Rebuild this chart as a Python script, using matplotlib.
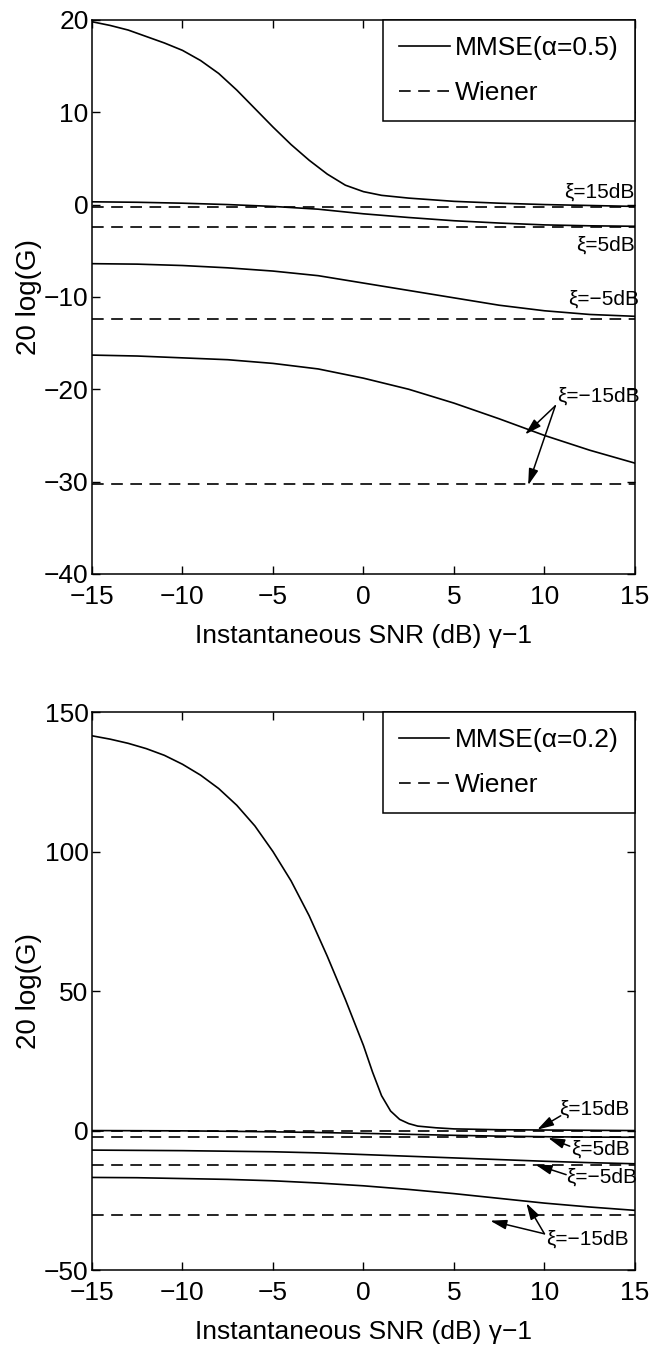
import matplotlib
matplotlib.use("Agg")
import matplotlib.pyplot as plt

plt.rcParams['font.family'] = ['Liberation Sans', 'DejaVu Sans']

# ---------------- data ----------------
snr = [-15, -12.5, -10, -7.5, -5, -2.5, 0, 2.5, 5, 7.5, 10, 12.5, 15]
x_ends = [-15, 15]

# alpha = 0.5 (top panel)
top_x15 = [-15, -14, -13, -12, -11, -10, -9, -8, -7, -6, -5, -4, -3, -2, -1, 0,
           1, 2.5, 5, 7.5, 10, 12.5, 15]
top_mmse15 = [19.8, 19.4, 18.9, 18.2, 17.5, 16.7, 15.6, 14.2, 12.4, 10.4, 8.4, 6.5, 4.8, 3.3, 2.1, 1.4,
              1.0, 0.7, 0.35, 0.15, 0.0, -0.1, -0.2]
top_mmse5 = [0.3, 0.25, 0.15, 0.0, -0.2, -0.5, -1.0, -1.4, -1.75, -2.0, -2.2, -2.3, -2.35]
top_mmse_m5 = [-6.4, -6.45, -6.6, -6.85, -7.2, -7.7, -8.5, -9.3, -10.1, -10.9, -11.5, -11.9, -12.1]
top_mmse_m15 = [-16.3, -16.4, -16.6, -16.8, -17.2, -17.8, -18.8, -20.0, -21.5, -23.2, -25.0, -26.6, -28.0]

# alpha = 0.2 (bottom panel)
bot_x15 = [-15, -14, -13, -12, -11, -10, -9, -8, -7, -6, -5, -4, -3, -2, -1, 0,
           0.5, 1, 1.5, 2, 2.5, 3, 4, 5, 7.5, 10, 12.5, 15]
bot_mmse15 = [141.5, 140.3, 138.8, 136.9, 134.5, 131.3, 127.4, 122.6, 116.6, 109.2, 100.0, 89.5, 77.0, 62.5, 47.0, 30.5,
              21.0, 12.5, 7.0, 4.0, 2.5, 1.6, 1.0, 0.6, 0.3, 0.2, 0.1, 0.0]
bot_mmse5 = [0.0, -0.05, -0.1, -0.25, -0.45, -0.7, -1.0, -1.35, -1.7, -2.0, -2.2, -2.35, -2.4]
bot_mmse_m5 = [-7.0, -7.1, -7.2, -7.4, -7.6, -8.0, -8.6, -9.2, -9.8, -10.4, -11.0, -11.5, -11.9]
bot_mmse_m15 = [-16.8, -16.9, -17.2, -17.5, -18.0, -18.8, -19.8, -21.1, -22.6, -24.3, -26.0, -27.4, -28.6]

# Wiener gains (constant) for xi = 15, 5, -5, -15 dB
wiener = [-0.27, -2.4, -12.4, -30.3]

top_yticks = [-40, -30, -20, -10, 0, 10, 20]
bot_yticks = [-50, 0, 50, 100, 150]
xticks = [-15, -10, -5, 0, 5, 10, 15]

# ---------------- figure ----------------
fig = plt.figure(figsize=(6.51, 13.53), dpi=100)
ax1 = fig.add_axes([0.1413, 0.5758, 0.834, 0.4095])
ax2 = fig.add_axes([0.1413, 0.0613, 0.834, 0.4124])

LW = 1.2
DASH = (0, (7, 4.5))
FS = 19
AFS = 15
arrow_kw = dict(arrowstyle='-|>,head_length=0.55,head_width=0.16', color='k',
                lw=1.1, mutation_scale=18, shrinkA=0, shrinkB=0)


def style(ax, yticks, ylim):
    ax.set_xlim(-15, 15)
    ax.set_ylim(*ylim)
    ax.set_xticks(xticks)
    ax.set_yticks(yticks)
    ax.tick_params(direction='in', top=True, right=True, length=6, width=1.0,
                   labelsize=FS)
    ax.tick_params(axis='x', pad=8)
    ax.tick_params(axis='y', pad=2.5)
    for s in ax.spines.values():
        s.set_linewidth(1.1)
    ax.set_xlabel('Instantaneous SNR (dB) γ−1', fontsize=FS, labelpad=11)
    ax.set_ylabel('20 log(G)', fontsize=FS + 1, labelpad=1.5)


def legend(ax, handles, labels):
    leg = ax.legend(handles, labels, loc='upper right',
                    bbox_to_anchor=(1.0, 1.0), borderaxespad=0.0, fontsize=FS,
                    fancybox=False, edgecolor='k', framealpha=1.0, handlelength=1.9,
                    handletextpad=0.2, borderpad=0.62, labelspacing=0.78)
    leg.get_frame().set_linewidth(1.1)
    return leg


# ---- top panel ----
l1, = ax1.plot(top_x15, top_mmse15, color='k', lw=LW)
ax1.plot(snr, top_mmse5, color='k', lw=LW)
ax1.plot(snr, top_mmse_m5, color='k', lw=LW)
ax1.plot(snr, top_mmse_m15, color='k', lw=LW)
d1 = None
for w in wiener:
    d, = ax1.plot(x_ends, [w, w], color='k', lw=LW, linestyle=DASH)
    d1 = d1 or d
style(ax1, top_yticks, (-40, 20))
legend(ax1, [l1, d1], ['MMSE(α=0.5)', 'Wiener'])

ax1.text(15, 0.35, 'ξ=15dB', ha='right', va='bottom', fontsize=AFS)
ax1.text(15, -4.4, 'ξ=5dB', ha='right', va='center', fontsize=AFS)
ax1.text(15.25, -10.2, 'ξ=−5dB', ha='right', va='center', fontsize=AFS)
ax1.text(10.7, -20.7, 'ξ=−15dB', ha='left', va='center', fontsize=AFS)
ax1.annotate('', xy=(8.93, -24.9), xytext=(10.6, -21.8), arrowprops=arrow_kw)
ax1.annotate('', xy=(9.1, -30.4), xytext=(10.6, -21.8), arrowprops=arrow_kw)

# ---- bottom panel ----
l2, = ax2.plot(bot_x15, bot_mmse15, color='k', lw=LW)
ax2.plot(snr, bot_mmse5, color='k', lw=LW)
ax2.plot(snr, bot_mmse_m5, color='k', lw=LW)
ax2.plot(snr, bot_mmse_m15, color='k', lw=LW)
d2 = None
for w in wiener:
    d, = ax2.plot(x_ends, [w, w], color='k', lw=LW, linestyle=DASH)
    d2 = d2 or d
style(ax2, bot_yticks, (-50, 150))
legend(ax2, [l2, d2], ['MMSE(α=0.2)', 'Wiener'])

ax2.text(10.8, 7.8, 'ξ=15dB', ha='left', va='center', fontsize=AFS)
ax2.annotate('', xy=(9.6, 0.3), xytext=(10.9, 5.3), arrowprops=arrow_kw)
ax2.text(11.5, -6.6, 'ξ=5dB', ha='left', va='center', fontsize=AFS)
ax2.annotate('', xy=(10.2, -2.6), xytext=(11.4, -5.6), arrowprops=arrow_kw)
ax2.text(11.2, -16.6, 'ξ=−5dB', ha='left', va='center', fontsize=AFS)
ax2.annotate('', xy=(9.5, -12.2), xytext=(11.2, -15.8), arrowprops=arrow_kw)
ax2.text(10.1, -39.0, 'ξ=−15dB', ha='left', va='center', fontsize=AFS)
ax2.annotate('', xy=(9.0, -26.0), xytext=(10.0, -37.0), arrowprops=arrow_kw)
ax2.annotate('', xy=(7.0, -32.3), xytext=(10.0, -37.0), arrowprops=arrow_kw)

fig.savefig('out.png', dpi=100)
